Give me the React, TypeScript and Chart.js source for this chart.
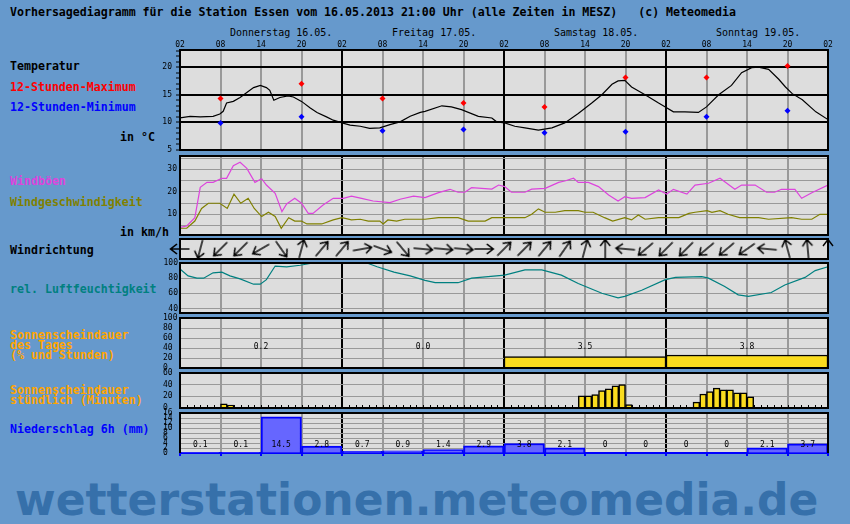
import React, { useEffect, useRef } from 'react';
import { Chart, registerables } from 'chart.js';

Chart.register(...registerables);

// ---------------- data ----------------
const titleText =
  'Vorhersagediagramm für die Station Essen vom 16.05.2013 21:00 Uhr (alle Zeiten in MESZ)   (c) Meteomedia';
const watermarkText = 'wetterstationen.meteomedia.de';
const dayLabels = ['Donnerstag 16.05.', 'Freitag 17.05.', 'Samstag 18.05.', 'Sonntag 19.05.'];
const firstClockHour = 2; // x = 0 is Thursday 02:00
const totalHours = 96;
const hourTickStep = 6;

const tempHours = [0, 1.5, 3, 4.9, 5.9, 6.4, 6.9, 7.9, 8.9, 9.9, 10.9, 11.9, 12.8, 13.3, 13.9, 14.8, 16, 16.8, 18, 19.3, 20.3, 21.7, 22.7, 24, 25.2, 26.7, 28.1, 29.6, 31.1, 32.6, 34.1, 35.6, 36.3, 38.8, 40.2, 41.7, 44.2, 46.2, 46.9, 48.1, 49.6, 51.1, 53.1, 55.1, 57, 59, 61, 62.5, 64, 64.9, 65.9, 66.9, 68.9, 70.9, 71.9, 73.1, 74.8, 76.8, 78, 79.8, 81.7, 83.2, 84.7, 85.7, 87.2, 88.7, 89.7, 90.7, 92.2, 94.2, 96];
const tempValues = [10.8, 11.1, 11.0, 11.1, 11.5, 12.0, 13.5, 13.8, 14.5, 15.4, 16.3, 16.7, 16.3, 15.8, 14.0, 14.5, 14.8, 14.6, 13.8, 12.6, 11.8, 11.0, 10.4, 9.9, 9.5, 9.3, 8.9, 9.0, 9.6, 10.1, 11.1, 11.8, 12.0, 13.0, 12.8, 12.3, 11.1, 10.8, 10.1, 9.9, 9.3, 9.0, 8.6, 9.0, 9.9, 11.6, 13.5, 15.0, 16.9, 17.5, 17.6, 16.4, 15.0, 13.5, 12.8, 11.9, 11.9, 11.8, 12.8, 15.0, 16.7, 19.0, 19.9, 20.0, 19.6, 17.8, 16.4, 15.2, 14.1, 11.9, 10.5];

const extremeHours = [6, 18, 30, 42, 54, 66, 78, 90];
const maxValues = [14.3, 17.0, 14.3, 13.5, 12.8, 18.1, 18.1, 20.2];
const minValues = [9.9, 11.0, 8.5, 8.7, 8.1, 8.3, 11.0, 12.1];

const gustHours = [0, 1, 2.2, 3, 4, 4.9, 6.2, 6.9, 7.9, 8.9, 9.9, 11.1, 12.1, 12.8, 14.1, 15.1, 15.8, 17, 18, 19, 19.7, 21.2, 22.7, 24.2, 25.4, 26.9, 28.6, 31.1, 32.6, 34.6, 36.3, 38.3, 40, 41.2, 42.2, 43.2, 46.2, 47.2, 48.1, 49.1, 51.1, 52.1, 54.1, 56.1, 57, 58.3, 59, 60.5, 62, 63.5, 64.9, 65.9, 66.9, 68.9, 70.9, 72.1, 73.1, 75.1, 76.3, 78.3, 80, 81, 82.2, 83.2, 85.2, 86.9, 88.1, 89.1, 91.1, 92.1, 93.6, 96];
const gustValues = [4.2, 4.8, 8.5, 22.0, 24.2, 24.2, 26.0, 26.0, 31.6, 33.1, 30.4, 24.2, 25.8, 23.0, 19.3, 11.2, 14.6, 17.1, 14.9, 10.4, 10.4, 14.1, 17.1, 17.1, 18.1, 17.1, 15.9, 15.2, 16.7, 18.1, 17.4, 19.6, 21.1, 19.8, 19.8, 21.8, 21.2, 23.0, 22.3, 19.8, 19.8, 21.2, 21.5, 24.2, 24.8, 26.0, 24.2, 24.2, 22.3, 18.6, 15.9, 17.8, 17.1, 17.4, 20.8, 19.0, 21.1, 19.0, 23.0, 23.8, 26.0, 23.8, 21.1, 23.0, 23.0, 19.8, 19.8, 21.1, 21.1, 17.1, 19.6, 23.0];

const windHours = [0, 1, 2.2, 3.2, 4.2, 5.9, 7, 8, 9, 10.1, 11, 12.1, 13.1, 14.1, 15, 16.1, 17, 18, 18.8, 21, 22.7, 24, 25.4, 26.7, 27.9, 29.6, 30.1, 30.8, 32.1, 33.3, 36.3, 38.3, 41.2, 42.7, 45.2, 46.2, 51.1, 52.1, 53.1, 54.1, 55.6, 57, 59, 60, 61.2, 62.9, 64.1, 65.9, 66.9, 67.9, 68.9, 70.9, 73.9, 75.4, 76.3, 78.1, 78.8, 80, 81.2, 82.9, 85.7, 87.2, 90.6, 92.1, 93.6, 94.8, 96];
const windValues = [3.8, 3.8, 7.0, 12.6, 14.9, 14.9, 12.6, 18.9, 14.9, 17.1, 12.6, 9.0, 10.9, 9.0, 3.8, 8.5, 7.0, 7.0, 5.7, 5.7, 7.5, 8.5, 7.5, 7.8, 7.0, 7.0, 5.7, 7.5, 7.0, 7.8, 7.8, 8.5, 8.5, 7.0, 7.0, 8.5, 8.5, 10.0, 12.4, 10.9, 10.9, 11.6, 11.6, 10.9, 10.9, 8.5, 7.0, 8.5, 7.5, 9.7, 7.8, 8.5, 8.5, 10.4, 10.9, 11.6, 10.9, 11.6, 10.0, 8.5, 8.5, 7.8, 8.5, 7.8, 7.8, 10.0, 10.0];

const dirHours = [0, 3, 6, 9, 12, 15, 18, 21, 24, 27, 30, 33, 36, 39, 42, 45, 48, 51, 54, 57, 60, 63, 66, 69, 72, 75, 78, 81, 84, 87, 90, 93, 96];
const dirDegrees = [270, 195, 225, 225, 240, 145, 15, 40, 40, 80, 110, 140, 95, 95, 95, 90, 45, 45, 40, 35, 15, 0, 275, 230, 225, 225, 230, 230, 235, 275, 345, 355, 0];

const humHours = [0, 1.2, 2.5, 3.5, 4.9, 6.2, 7.4, 8.9, 10.9, 11.9, 12.8, 14.1, 15.8, 17.8, 19.7, 27.7, 29.2, 31.7, 34.1, 36.3, 37.8, 41.2, 43.2, 48.1, 51.1, 53.6, 56.5, 59, 62.5, 64.9, 65.9, 68.4, 71.9, 73.4, 77.3, 78.3, 80.7, 82.7, 84.2, 87.6, 89.6, 92.6, 94.1, 96];
const humValues = [92, 83, 80, 80, 87, 88, 83, 79, 72, 72, 78, 96, 95, 97, 100, 100, 95, 88, 83, 77, 74, 74, 80, 84, 91, 91, 84, 73, 60, 54, 56, 64, 78, 81, 82, 80, 69, 58, 56, 61, 71, 81, 90, 95];

const sunDayPercent = [1.3, 0, 23, 26];
const sunDayHours = [0.2, 0.0, 3.5, 3.8];

const sunHourStarts = [6, 7, 59, 60, 61, 62, 63, 64, 65, 66, 76, 77, 78, 79, 80, 81, 82, 83, 84];
const sunHourMinutes = [7, 5, 21, 21, 23, 30, 33, 38, 40, 6, 10, 24, 28, 34, 31, 31, 26, 26, 19];

const precipValues = [0.1, 0.1, 14.5, 2.8, 0.7, 0.9, 1.4, 2.9, 3.8, 2.1, 0, 0, 0, 0, 2.1, 3.7];

// ---------------- layout / style ----------------
const PAGE_W = 850;
const PAGE_H = 524;
const PLOT_LEFT = 180;
const PLOT_RIGHT = 828;
const PAD = 10;
const TOP_AXIS_H = 12;
const PANELS: any = {
  temp: { top: 50, bottom: 150 },
  wind: { top: 156, bottom: 235 },
  dir: { top: 238, bottom: 260 },
  hum: { top: 263, bottom: 313 },
  sunDay: { top: 318, bottom: 368 },
  sunHour: { top: 373, bottom: 408 },
  precip: { top: 413, bottom: 453 },
};
const BG = '#6699cc';
const PANEL_BG = '#dddddd';
const GRID_GRAY = '#999999';
const CLEAR = 'rgba(0,0,0,0)';
const MONO = '"DejaVu Sans Mono", "Liberation Mono", monospace';
const SUN_YELLOW = '#fadc1e';
const PRECIP_LABEL_AT = 3.2;
const SUN_LABEL_AT = 42;

const pts = (xs: number[], ys: number[]) => xs.map((x, i) => ({ x, y: ys[i] }));

function geom(p: any, extraTop = 0) {
  return { top: p.top - PAD - extraTop, height: p.bottom - p.top + 2 * PAD + extraTop };
}

function xScale(o: any = {}) {
  const labels = !!o.labels;
  return {
    type: 'linear',
    position: labels ? 'top' : 'bottom',
    min: 0,
    max: totalHours,
    offset: false,
    afterFit: (s: any) => {
      s.height = labels ? TOP_AXIS_H : 0;
    },
    ticks: {
      display: labels,
      stepSize: hourTickStep,
      autoSkip: false,
      maxRotation: 0,
      minRotation: 0,
      padding: 0,
      color: '#000',
      font: { family: MONO, size: 8 },
      callback: (v: number) => String((v + firstClockHour) % 24).padStart(2, '0'),
    },
    grid: {
      display: o.grid !== false,
      offset: false,
      color: (c: any) => (c.tick && c.tick.value % 24 === 0 ? '#000' : GRID_GRAY),
      lineWidth: 2,
      drawTicks: !!o.blue,
      tickLength: 3,
      tickColor: '#0000ff',
      tickWidth: 2,
    },
    border: o.blue ? { display: true, color: '#0000ff', width: 2 } : { display: false },
  };
}

function yScale(o: any) {
  return {
    type: 'linear',
    position: 'left',
    min: o.min,
    max: o.max,
    afterFit: (s: any) => {
      s.width = o.width;
    },
    ticks: {
      stepSize: o.step,
      includeBounds: false,
      autoSkip: false,
      padding: o.padding ?? 3,
      color: '#000',
      font: { family: MONO, size: 8 },
      crossAlign: o.far ? 'far' : 'near',
      callback: (v: number) => (o.labelIf(v) ? String(v) : ''),
    },
    grid: {
      color: (c: any) => (c.tick ? o.gridColor(c.tick.value) : CLEAR),
      lineWidth: o.gridWidth ?? 1,
      drawTicks: !!o.tickLen,
      tickLength: o.tickLen ?? 0,
      tickColor: '#000',
      tickWidth: 1,
    },
    border: { display: false },
  };
}

function options(yWidth: number, x: any, y: any) {
  return {
    responsive: false,
    maintainAspectRatio: false,
    animation: false,
    devicePixelRatio: 1,
    events: [],
    layout: { padding: { left: PLOT_LEFT - yWidth, right: PAGE_W - PLOT_RIGHT, top: PAD, bottom: PAD } },
    plugins: { legend: { display: false }, tooltip: { enabled: false }, title: { display: false } },
    scales: { x, y },
  };
}

const panelBg = {
  id: 'panelBg',
  beforeDraw(chart: any) {
    const { ctx, chartArea: a } = chart;
    ctx.save();
    ctx.fillStyle = PANEL_BG;
    ctx.fillRect(a.left, a.top, a.right - a.left, a.bottom - a.top);
    ctx.restore();
  },
};

function frame(bottom = true) {
  return {
    id: 'frame',
    afterDatasetsDraw(chart: any) {
      const { ctx, chartArea: a } = chart;
      ctx.save();
      ctx.strokeStyle = '#000';
      ctx.lineWidth = 2;
      if (bottom) {
        ctx.strokeRect(a.left, a.top, a.right - a.left, a.bottom - a.top);
      } else {
        ctx.beginPath();
        ctx.moveTo(a.left, a.bottom);
        ctx.lineTo(a.left, a.top);
        ctx.lineTo(a.right, a.top);
        ctx.lineTo(a.right, a.bottom);
        ctx.stroke();
      }
      ctx.restore();
    },
  };
}

function barLabels(values: number[], centerOf: (i: number) => number, level: number, fmt: (v: number) => string) {
  return {
    id: 'barLabels',
    afterDatasetsDraw(chart: any) {
      const { ctx, scales } = chart;
      ctx.save();
      ctx.font = `8px ${MONO}`;
      ctx.fillStyle = '#000';
      ctx.textAlign = 'center';
      ctx.textBaseline = 'middle';
      values.forEach((v, i) => {
        ctx.fillText(fmt(v), scales.x.getPixelForValue(centerOf(i)), scales.y.getPixelForValue(level));
      });
      ctx.restore();
    },
  };
}

const hourTicks = {
  id: 'hourTicks',
  beforeDatasetsDraw(chart: any) {
    const { ctx, chartArea: a, scales } = chart;
    ctx.save();
    ctx.strokeStyle = '#000';
    ctx.lineWidth = 1;
    ctx.beginPath();
    for (let h = 1; h < totalHours; h++) {
      const x = Math.round(scales.x.getPixelForValue(h)) + 0.5;
      ctx.moveTo(x, a.bottom);
      ctx.lineTo(x, a.bottom - 3);
    }
    ctx.stroke();
    ctx.restore();
  },
};

function makeArrow(): HTMLCanvasElement {
  const c = document.createElement('canvas');
  c.width = 24;
  c.height = 24;
  const g = c.getContext('2d') as CanvasRenderingContext2D;
  g.strokeStyle = '#000';
  g.lineWidth = 1.4;
  g.beginPath();
  g.moveTo(12, 21.5);
  g.lineTo(12, 2.5);
  g.moveTo(7, 9);
  g.lineTo(12, 2.5);
  g.lineTo(17, 9);
  g.stroke();
  return c;
}

const Txt = (p: any) => {
  const size = p.size ?? 11.6;
  return (
    <div
      style={{
        position: 'absolute',
        left: p.x,
        top: p.base - 0.846 * size,
        fontFamily: p.family ?? MONO,
        fontSize: size,
        lineHeight: `${size}px`,
        fontWeight: p.bold === false ? 'normal' : 'bold',
        color: p.color ?? '#000',
        whiteSpace: 'pre',
      }}
    >
      {p.children}
    </div>
  );
};

export default function App() {
  const refs: any = {
    temp: useRef<HTMLCanvasElement>(null),
    wind: useRef<HTMLCanvasElement>(null),
    dir: useRef<HTMLCanvasElement>(null),
    hum: useRef<HTMLCanvasElement>(null),
    sunDay: useRef<HTMLCanvasElement>(null),
    sunHour: useRef<HTMLCanvasElement>(null),
    precip: useRef<HTMLCanvasElement>(null),
  };

  useEffect(() => {
    const charts: Chart[] = [];
    const arrow = makeArrow();
    const bars = { categoryPercentage: 1, barPercentage: 1 };

    // Temperature
    {
      const o: any = options(
        30,
        xScale({ labels: true }),
        yScale({
          min: 5, max: 23.1, step: 1, width: 30, padding: 4, tickLen: 4, gridWidth: 2,
          labelIf: (v: number) => v % 5 === 0,
          gridColor: (v: number) => (v % 5 === 0 ? '#000' : CLEAR),
        })
      );
      charts.push(
        new Chart(refs.temp.current, {
          type: 'line',
          data: {
            datasets: [
              { data: pts(tempHours, tempValues), borderColor: '#000', borderWidth: 1.2, pointRadius: 0, tension: 0 },
              { data: pts(extremeHours, maxValues), showLine: false, pointStyle: 'rectRot', pointRadius: 3, backgroundColor: '#ff0000', borderColor: '#ff0000', pointBorderWidth: 0 },
              { data: pts(extremeHours, minValues), showLine: false, pointStyle: 'rectRot', pointRadius: 3, backgroundColor: '#0000ff', borderColor: '#0000ff', pointBorderWidth: 0 },
            ],
          },
          options: o,
          plugins: [panelBg, frame()],
        } as any)
      );
    }

    // Wind
    charts.push(
      new Chart(refs.wind.current, {
        type: 'line',
        data: {
          datasets: [
            { data: pts(gustHours, gustValues), borderColor: '#dd44dd', borderWidth: 1.2, pointRadius: 0 },
            { data: pts(windHours, windValues), borderColor: '#808000', borderWidth: 1.2, pointRadius: 0 },
          ],
        },
        options: options(
          30,
          xScale(),
          yScale({
            min: 0.8, max: 35.9, step: 5, width: 30, padding: 3,
            labelIf: (v: number) => v % 10 === 0,
            gridColor: () => GRID_GRAY,
          })
        ),
        plugins: [panelBg, frame()],
      } as any)
    );

    // Wind direction
    {
      const o: any = options(0, xScale({ grid: false }), { type: 'linear', display: false, min: -1, max: 1 });
      charts.push(
        new Chart(refs.dir.current, {
          type: 'line',
          data: {
            datasets: [
              {
                data: dirHours.map((h) => ({ x: h, y: 0 })),
                showLine: false,
                pointStyle: arrow,
                pointRadius: 10,
                pointRotation: dirDegrees,
                clip: false,
              },
            ],
          },
          options: o,
          plugins: [panelBg, frame()],
        } as any)
      );
    }

    // Humidity
    charts.push(
      new Chart(refs.hum.current, {
        type: 'line',
        data: {
          datasets: [{ data: pts(humHours, humValues), borderColor: '#008080', borderWidth: 1.2, pointRadius: 0, clip: 2 }],
        },
        options: options(
          30,
          xScale(),
          yScale({
            min: 34, max: 100, step: 20, width: 30, padding: 2,
            labelIf: () => true,
            gridColor: (v: number) => (v < 100 ? GRID_GRAY : CLEAR),
          })
        ),
        plugins: [panelBg, frame()],
      } as any)
    );

    // Daily sunshine
    charts.push(
      new Chart(refs.sunDay.current, {
        type: 'line',
        data: {
          datasets: [
            {
              type: 'bar',
              data: sunDayPercent.map((v, i) => ({ x: i * 24 + 12, y: v })),
              backgroundColor: SUN_YELLOW,
              borderColor: '#000',
              borderWidth: 1.5,
              barThickness: 'flex',
              ...bars,
            },
          ],
        },
        options: options(
          17,
          xScale(),
          yScale({
            min: 0, max: 100, step: 20, width: 17, far: true,
            labelIf: () => true,
            gridColor: (v: number) => (v > 0 && v < 100 ? GRID_GRAY : CLEAR),
          })
        ),
        plugins: [panelBg, barLabels(sunDayHours, (i) => i * 24 + 12, SUN_LABEL_AT, (v) => v.toFixed(1)), frame()],
      } as any)
    );

    // Hourly sunshine
    charts.push(
      new Chart(refs.sunHour.current, {
        type: 'line',
        data: {
          datasets: [
            {
              type: 'bar',
              data: sunHourStarts.map((h, i) => ({ x: h + 0.5, y: sunHourMinutes[i] })),
              backgroundColor: SUN_YELLOW,
              borderColor: '#000',
              borderWidth: 1.5,
              ...bars,
            },
          ],
        },
        options: options(
          17,
          xScale(),
          yScale({
            min: 0, max: 60, step: 20, width: 17, far: true,
            labelIf: () => true,
            gridColor: (v: number) => (v > 0 && v < 60 ? GRID_GRAY : CLEAR),
          })
        ),
        plugins: [panelBg, hourTicks, frame()],
      } as any)
    );

    // Precipitation
    charts.push(
      new Chart(refs.precip.current, {
        type: 'line',
        data: {
          datasets: [
            {
              type: 'bar',
              data: precipValues.map((v, i) => ({ x: i * 6 + 3, y: v })),
              backgroundColor: '#6666ff',
              borderColor: '#0000ff',
              borderWidth: 2,
              barThickness: 'flex',
              ...bars,
            },
          ],
        },
        options: options(
          17,
          xScale({ blue: true }),
          yScale({
            min: 0, max: 16, step: 2, width: 17, far: true,
            labelIf: () => true,
            gridColor: (v: number) => (v > 0 && v < 16 ? GRID_GRAY : CLEAR),
          })
        ),
        plugins: [panelBg, barLabels(precipValues, (i) => i * 6 + 3, PRECIP_LABEL_AT, (v) => String(v)), frame(false)],
      } as any)
    );

    return () => charts.forEach((c) => c.destroy());
  }, []);

  const canv = (key: string, extraTop = 0) => {
    const g = geom(PANELS[key], extraTop);
    return (
      <canvas
        key={key}
        ref={refs[key]}
        width={PAGE_W}
        height={g.height}
        style={{ position: 'absolute', left: 0, top: g.top, width: PAGE_W, height: g.height }}
      />
    );
  };

  const pxPerHour = (PLOT_RIGHT - PLOT_LEFT) / totalHours;

  return (
    <div
      style={{
        position: 'fixed',
        left: 0,
        top: 0,
        width: PAGE_W,
        height: PAGE_H,
        background: BG,
        overflow: 'hidden',
      }}
    >
      <Txt x={10} base={17}>{titleText}</Txt>
      {dayLabels.map((d, i) => (
        <Txt key={d} x={PLOT_LEFT + i * 24 * pxPerHour + 50} base={36.6} size={10} bold={false}>
          {d}
        </Txt>
      ))}
      <Txt x={10} base={71}>Temperatur</Txt>
      <Txt x={10} base={91.5} color="#ff0000">12-Stunden-Maximum</Txt>
      <Txt x={10} base={111.5} color="#0000ff">12-Stunden-Minimum</Txt>
      <Txt x={120} base={141.5}>in °C</Txt>
      <Txt x={10} base={186} color="#dd44dd">Windböen</Txt>
      <Txt x={10} base={206.5} color="#808000">Windgeschwindigkeit</Txt>
      <Txt x={120} base={236.5}>in km/h</Txt>
      <Txt x={10} base={254.5}>Windrichtung</Txt>
      <Txt x={10} base={293.5} color="#008080">rel. Luftfeuchtigkeit</Txt>
      <Txt x={10} base={339.5} color="#ffa500">Sonnenscheindauer</Txt>
      <Txt x={10} base={349.5} color="#ffa500">des Tages</Txt>
      <Txt x={10} base={359.5} color="#ffa500">(% und Stunden)</Txt>
      <Txt x={10} base={394.5} color="#ffa500">Sonnenscheindauer</Txt>
      <Txt x={10} base={404.5} color="#ffa500">stündlich (Minuten)</Txt>
      <Txt x={10} base={433.5} color="#0000ff">Niederschlag 6h (mm)</Txt>
      <Txt x={15} base={515} size={44} family='"DejaVu Sans", sans-serif' color="#3670aa">
        {watermarkText}
      </Txt>
      {canv('temp', TOP_AXIS_H)}
      {canv('wind')}
      {canv('dir')}
      {canv('hum')}
      {canv('sunDay')}
      {canv('sunHour')}
      {canv('precip')}
    </div>
  );
}
